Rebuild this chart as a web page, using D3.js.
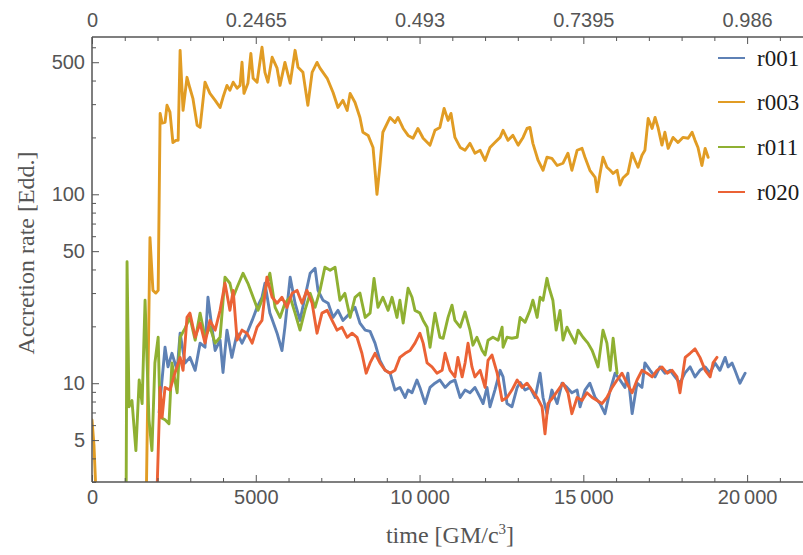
<!DOCTYPE html>
<html><head><meta charset="utf-8">
<script src="https://cdn.jsdelivr.net/npm/d3@7"></script>
<style>body{margin:0;background:#fff}svg{display:block}</style>
</head><body>
<svg id="c" width="803" height="555"></svg>
<script>
const seriesNames = ["r001","r003","r011","r020"];
const seriesColors = ["#5E81B5","#E19C24","#8FB032","#EB6235"];
const xMajorTicks = [0,5000,10000,15000,20000];
const xMinorTicks = [1000,2000,3000,4000,6000,7000,8000,9000,11000,12000,13000,14000,16000,17000,18000,19000,21000,22000];
const topTickLabels = ["0","0.2465","0.493","0.7395","0.986"];
const yMajorTicks = [5,10,50,100,500];
const yMinorTicks = [3,4,6,7,8,9,20,30,40,60,70,80,90,200,300,400,600];

const r001 = [[2050,7],[2080,8.1],[2230,15.5],[2320,12.2],[2440,14.4],[2600,11.7],[2690,18.4],[2840,12.8],[2990,13.7],[3150,11.7],[3300,16.3],[3450,15.5],[3540,28.5],[3660,19.8],[3760,14.9],[3910,16.9],[4000,11.4],[4120,19.1],[4270,13.7],[4430,18.4],[4580,16.3],[4730,18.4],[4890,21.5],[5040,25.2],[5190,28.5],[5280,33.8],[5430,23.5],[5650,18.4],[5800,14.9],[5890,19.8],[6050,36.4],[6200,26.5],[6350,21.5],[6500,28.5],[6660,38.2],[6810,40.6],[6900,31.0],[7050,27.5],[7210,26.5],[7360,22.3],[7510,24.3],[7660,21.5],[7880,23.5],[8030,25.2],[8180,20.8],[8340,19.1],[8490,18.8],[8640,16.3],[8790,13.2],[8950,11.7],[9100,11.3],[9250,9.2],[9400,9.5],[9560,8.4],[9650,9.2],[9770,8.9],[9920,10.4],[10010,9.5],[10170,7.8],[10320,9.5],[10470,10],[10620,10.4],[10780,9.5],[10930,10.1],[11080,10.4],[11240,8.4],[11390,9.2],[11540,8.9],[11690,9.5],[11850,8.4],[11940,7.8],[12060,9.5],[12150,7.5],[12300,9.2],[12460,11.7],[12550,10.8],[12670,7.8],[12820,7.5],[12980,9.5],[13070,10.1],[13220,9.2],[13370,9.5],[13530,8.4],[13680,11.3],[13770,8.4],[13890,6.9],[14040,9.2],[14200,7.8],[14350,10],[14500,9.5],[14650,8.9],[14810,9.2],[14900,7.5],[15050,9.2],[15200,10],[15360,8.4],[15510,7.8],[15660,6.9],[15820,9.2],[15970,11.3],[16120,10.4],[16270,9.5],[16360,11.3],[16490,6.9],[16640,10],[16790,9.5],[16880,12.8],[17040,11.7],[17190,10.8],[17340,12.2],[17490,11.3],[17650,11.7],[17800,10.8],[17950,10],[18100,11.3],[18260,12.2],[18410,10.8],[18560,11.7],[18720,12.2],[18870,11.3],[19020,12.8],[19170,11.7],[19330,13.7],[19420,12.2],[19540,12.8],[19630,11.7],[19780,10],[19940,11.3]];

const r003 = [[0,6.4],[60,4.7],[150,2],[1650,2],[1770,59],[1860,31],[1950,30],[2020,31],[2080,268],[2140,238],[2230,240],[2290,296],[2380,272],[2470,188],[2570,193],[2630,193],[2690,578],[2780,278],[2900,416],[2990,364],[3080,322],[3210,232],[3300,226],[3450,392],[3600,342],[3760,314],[3910,288],[4000,326],[4120,377],[4210,355],[4310,392],[4430,364],[4520,377],[4580,500],[4640,342],[4760,387],[4850,557],[4920,411],[5040,392],[5190,600],[5280,442],[5370,392],[5500,531],[5650,465],[5740,377],[5890,499],[6050,387],[6200,578],[6290,470],[6440,442],[6590,296],[6720,442],[6870,499],[6960,465],[7180,411],[7360,346],[7510,288],[7660,314],[7790,278],[7880,342],[8030,306],[8180,255],[8270,213],[8430,205],[8580,177],[8640,134],[8700,100],[8790,142],[8880,213],[9100,255],[9250,240],[9340,255],[9500,223],[9650,205],[9800,198],[9950,223],[10110,198],[10320,182],[10470,218],[10620,226],[10750,285],[10870,246],[10960,268],[11080,200],[11240,177],[11390,171],[11540,186],[11690,165],[11850,171],[12000,151],[12150,177],[12300,188],[12460,200],[12550,218],[12700,193],[12850,205],[13010,182],[13160,200],[13280,223],[13370,226],[13460,186],[13620,151],[13770,134],[13890,157],[14040,155],[14200,142],[14380,146],[14530,165],[14650,134],[14810,171],[14960,175],[15050,157],[15200,134],[15360,123],[15420,103],[15510,129],[15600,157],[15720,139],[15820,134],[15910,129],[16030,134],[16120,112],[16210,122],[16360,129],[16490,165],[16580,151],[16670,139],[16790,161],[16880,171],[16980,252],[17100,223],[17190,255],[17280,226],[17400,182],[17490,213],[17590,175],[17740,200],[17890,188],[18040,200],[18200,198],[18320,213],[18410,193],[18500,177],[18620,142],[18720,175],[18810,157]];

const r011 = [[1040,2],[1070,44],[1130,7.5],[1220,8.1],[1340,4.4],[1440,10.4],[1530,7.8],[1620,27.5],[1740,6.4],[1830,4.4],[1920,12.8],[2020,17.5],[2080,6.6],[2230,6.4],[2350,6.1],[2440,12.8],[2600,8.9],[2690,17.5],[2840,19.5],[2990,22.3],[3150,16.9],[3300,23.5],[3450,17.5],[3600,19.8],[3760,16.3],[3910,17.5],[4060,36.4],[4210,33.8],[4310,28.5],[4430,32.2],[4610,38.2],[4760,33.8],[4920,28.5],[5070,24.3],[5220,28.5],[5430,38.2],[5590,25.2],[5740,22.3],[5890,26.5],[6050,28.5],[6200,23.5],[6350,19.1],[6500,24.3],[6660,29.9],[6810,25.2],[6960,31.0],[7110,41.1],[7270,39.6],[7420,41.1],[7570,27.5],[7720,29.9],[7880,22.3],[8030,28.5],[8180,30],[8340,22.3],[8490,23.5],[8610,35.9],[8730,25.2],[8880,28.5],[9040,24.3],[9160,28.5],[9310,22.3],[9400,27.5],[9500,20.8],[9650,31.8],[9770,28.5],[9860,24.3],[10010,23.5],[10110,21.5],[10230,19.8],[10320,15.5],[10470,23.5],[10620,17.5],[10720,17.3],[10870,22.3],[10990,25.9],[11080,21.5],[11240,19.8],[11390,23.8],[11540,19.1],[11630,15.9],[11750,17.5],[11910,14.9],[12000,14.1],[12090,16.9],[12240,17.5],[12400,16.9],[12520,19.8],[12550,15.5],[12670,17.5],[12820,17.3],[12980,17.5],[13070,22.3],[13220,21],[13370,24.3],[13460,27.5],[13590,22.3],[13680,28.5],[13770,27.5],[13890,35.9],[13950,32.2],[14070,27.5],[14170,19.1],[14290,24.3],[14380,16.9],[14500,19.8],[14590,18.4],[14750,16.3],[14840,19.1],[14990,17.5],[15140,16.3],[15270,14.9],[15360,13.5],[15450,12.2],[15600,19.1],[15720,16.3],[15820,11.7],[15910,17.3],[16030,11.3]];

const r020 = [[1980,2.5],[2080,9.5],[2140,6.6],[2230,9.5],[2380,9.2],[2530,11.3],[2690,13.7],[2780,11.7],[2900,22.3],[2990,23.5],[3150,17.5],[3300,20.8],[3450,16.3],[3600,21.5],[3760,19.1],[3910,24.3],[4060,33.8],[4210,24.3],[4310,31.0],[4430,16.9],[4580,19.1],[4730,18.4],[4890,16.3],[5040,19.8],[5190,21.5],[5340,36.4],[5500,28.5],[5650,26.5],[5800,28.5],[5950,25.2],[6110,29.9],[6260,31.0],[6410,26.5],[6560,31.0],[6720,26.5],[6870,18.4],[7020,23.5],[7180,24.3],[7330,21.5],[7480,19.1],[7630,19.8],[7790,17.5],[7940,18.4],[8090,17.5],[8240,14.4],[8370,11.3],[8490,12.8],[8640,14.4],[8790,12.8],[8950,11.7],[9100,11.3],[9250,11.7],[9400,13.7],[9560,14.4],[9710,14.9],[9860,16.3],[10010,18.4],[10110,16.3],[10230,12.8],[10380,12.2],[10530,11.3],[10690,11.7],[10780,14.4],[10930,11.7],[11080,10.8],[11170,13.7],[11300,10.8],[11390,12.8],[11480,16.3],[11600,12.2],[11690,10.8],[11850,11.7],[12000,9.5],[12090,13.2],[12210,14.1],[12370,11.3],[12520,8.1],[12670,8.4],[12820,9.2],[12980,10.4],[13130,9.5],[13280,10],[13430,9.2],[13590,8.4],[13740,7.5],[13830,5.4],[13920,7.8],[14070,8.4],[14230,9.2],[14380,10],[14530,8.9],[14650,6.9],[14810,8.4],[14960,8.1],[15110,8.9],[15270,8.4],[15420,8.1],[15570,7.8],[15720,8.4],[15880,9.5],[16030,10.4],[16180,11.3],[16330,10],[16490,8.9],[16640,10.4],[16790,11.7],[16940,11.3],[17100,10.8],[17250,11.7],[17400,12.2],[17560,11.3],[17710,11.7],[17860,10.8],[17950,8.9],[18110,13.7],[18260,14.4],[18410,15.2],[18560,13.7],[18720,11.7],[18870,10.8],[18960,12.8],[19080,13.7]];

const seriesData = [r001, r003, r011, r020];

const svg = d3.select("#c");
const L = 92, T = 37, B = 482, R = 829;
const x = d3.scaleLinear().domain([0, 22500]).range([L, R]);
const y = d3.scaleLog().domain([3, 680]).range([B, T]);

const axisColor = "#555";
const labelColor = "#555";
const sansFont = "'Liberation Sans', Arial, sans-serif";
const serifFont = "'Liberation Serif', 'Times New Roman', serif";

svg.append("defs").append("clipPath").attr("id","plotClip")
  .append("rect").attr("x", L).attr("y", T).attr("width", 803 - L + 10).attr("height", B - T);

// series
const line = d3.line().x(d => x(d[0])).y(d => y(d[1]));
const plot = svg.append("g").attr("clip-path","url(#plotClip)");
seriesData.forEach((s, i) => {
  plot.append("path").datum(s)
    .attr("d", line)
    .attr("fill","none")
    .attr("stroke", seriesColors[i])
    .attr("stroke-width", 2.9)
    .attr("stroke-linejoin","round")
    .attr("stroke-linecap","round");
});

function styleAxis(g) {
  g.select(".domain").remove();
  g.selectAll(".tick line").attr("stroke", axisColor).attr("stroke-width", 1);
  g.selectAll(".tick text").attr("fill", labelColor).style("font-family", sansFont).style("font-size", "20px");
}

const fmtBottom = d => d >= 10000 ? d3.format(",")(d).replace(",", "\u2009") : String(d);

// bottom axis
svg.append("g").attr("transform", `translate(0,${B})`)
  .call(d3.axisBottom(x).tickValues(xMajorTicks).tickSize(-7).tickPadding(8).tickFormat(fmtBottom))
  .call(styleAxis);
svg.append("g").attr("transform", `translate(0,${B})`)
  .call(d3.axisBottom(x).tickValues(xMinorTicks).tickSize(-4).tickFormat(""))
  .call(styleAxis);

// top axis
svg.append("g").attr("transform", `translate(0,${T})`)
  .call(d3.axisTop(x).tickValues(xMajorTicks).tickSize(-7).tickPadding(10).tickFormat((d, i) => topTickLabels[i]))
  .call(styleAxis);
svg.append("g").attr("transform", `translate(0,${T})`)
  .call(d3.axisTop(x).tickValues(xMinorTicks).tickSize(-4).tickFormat(""))
  .call(styleAxis);

// left axis
svg.append("g").attr("transform", `translate(${L},0)`)
  .call(d3.axisLeft(y).tickValues(yMajorTicks).tickSize(-7).tickPadding(7).tickFormat(d3.format("d")))
  .call(styleAxis);
svg.append("g").attr("transform", `translate(${L},0)`)
  .call(d3.axisLeft(y).tickValues(yMinorTicks).tickSize(-4).tickFormat(""))
  .call(styleAxis);

// frame
svg.append("path")
  .attr("d", `M${L},${T}H815M${L},${B}H815M${L},${T}V${B}`)
  .attr("stroke", axisColor).attr("stroke-width", 1.5).attr("fill", "none");

// axis titles
const xt = svg.append("text").attr("x", 450).attr("y", 543)
  .attr("text-anchor","middle").attr("fill", labelColor)
  .style("font-family", serifFont).style("font-size","24px");
xt.append("tspan").text("time [GM/c");
xt.append("tspan").attr("dy", -9).style("font-size","15px").text("3");
xt.append("tspan").attr("dy", 9).text("]");

svg.append("text").attr("transform","translate(34,253) rotate(-90)")
  .attr("text-anchor","middle").attr("fill", labelColor)
  .style("font-family", serifFont).style("font-size","24px")
  .text("Accretion rate [Edd.]");

// legend
const legendY = [58, 102, 147, 192];
seriesNames.forEach((n, i) => {
  svg.append("line").attr("x1", 718).attr("x2", 745).attr("y1", legendY[i]).attr("y2", legendY[i])
    .attr("stroke", seriesColors[i]).attr("stroke-width", 2);
  svg.append("text").attr("x", 757).attr("y", legendY[i]).attr("dy","0.35em")
    .attr("fill", "#1a1a1a").style("font-family", serifFont).style("font-size","23px").text(n);
});
</script>
</body></html>
